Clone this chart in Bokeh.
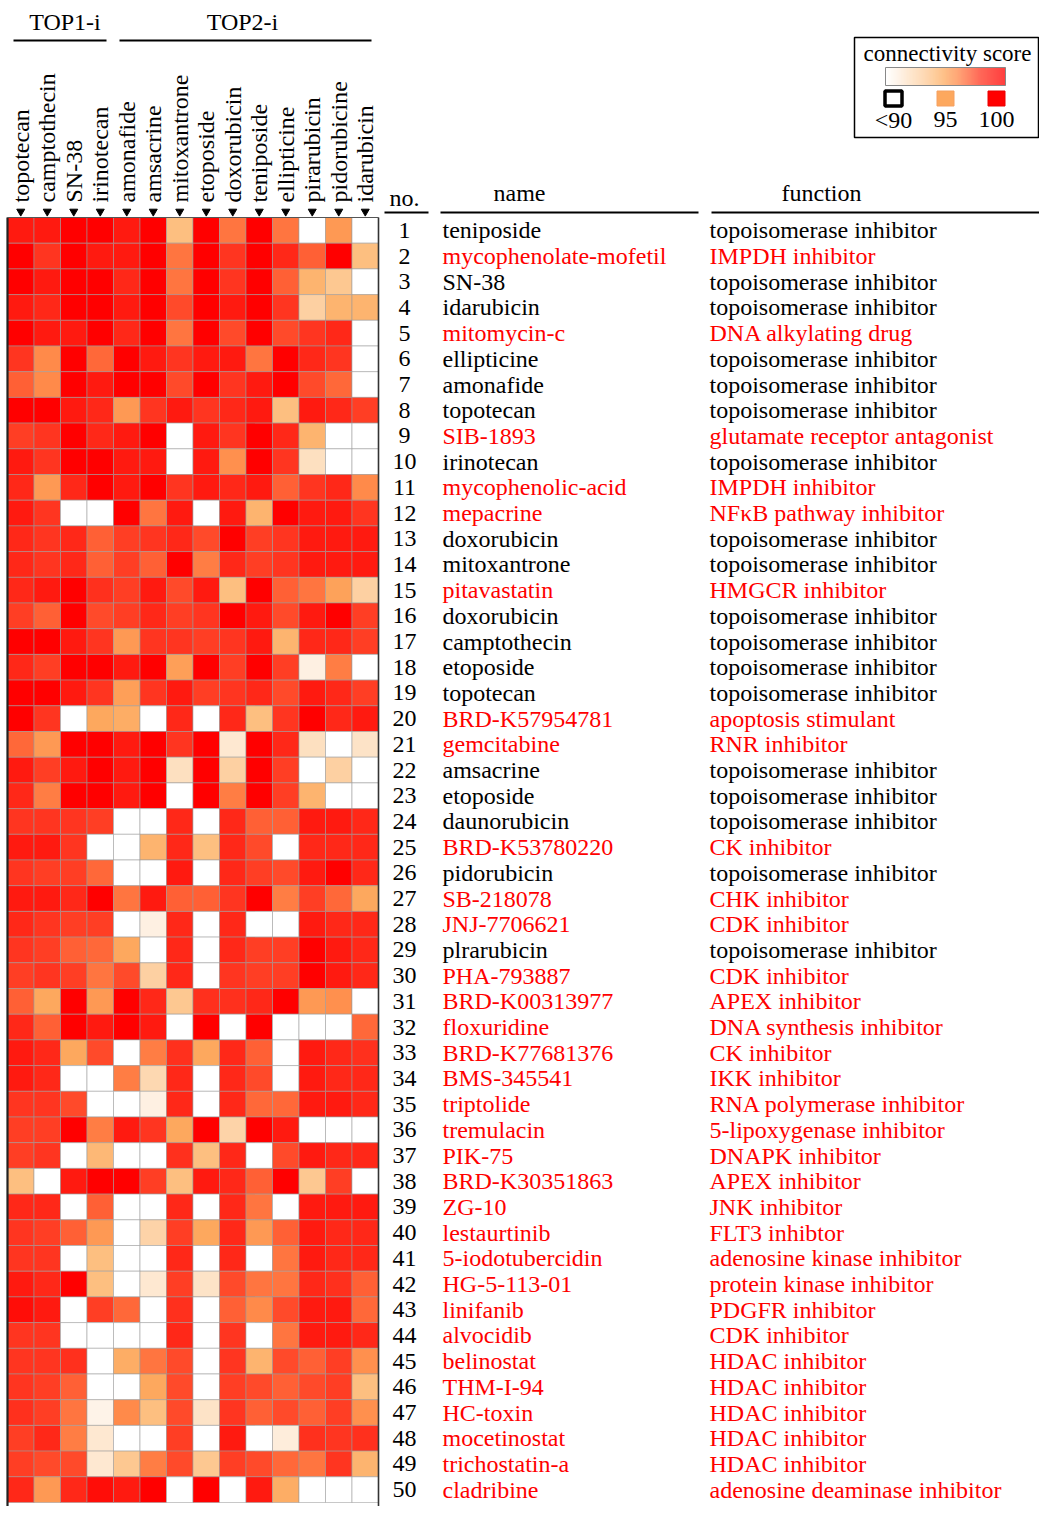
import numpy as np
from bokeh.plotting import figure
from bokeh.models import ColumnDataSource, LinearColorMapper, Range1d
from bokeh.transform import transform
from bokeh.core.properties import value
from bokeh.embed import file_html
from bokeh.resources import INLINE

# ---------------- data ----------------
groups = ["TOP1-i", "TOP2-i"]
group_sizes = [4, 10]
columns = ["topotecan", "camptothecin", "SN-38", "irinotecan", "amonafide", "amsacrine",
           "mitoxantrone", "etoposide", "doxorubicin", "teniposide", "ellipticine",
           "pirarubicin", "pidorubicine", "idarubicin"]

numbers = list(range(1, 51))
names = ["teniposide", "mycophenolate-mofetil", "SN-38", "idarubicin", "mitomycin-c",
         "ellipticine", "amonafide", "topotecan", "SIB-1893", "irinotecan",
         "mycophenolic-acid", "mepacrine", "doxorubicin", "mitoxantrone", "pitavastatin",
         "doxorubicin", "camptothecin", "etoposide", "topotecan", "BRD-K57954781",
         "gemcitabine", "amsacrine", "etoposide", "daunorubicin", "BRD-K53780220",
         "pidorubicin", "SB-218078", "JNJ-7706621", "plrarubicin", "PHA-793887",
         "BRD-K00313977", "floxuridine", "BRD-K77681376", "BMS-345541", "triptolide",
         "tremulacin", "PIK-75", "BRD-K30351863", "ZG-10", "lestaurtinib",
         "5-iodotubercidin", "HG-5-113-01", "linifanib", "alvocidib", "belinostat",
         "THM-I-94", "HC-toxin", "mocetinostat", "trichostatin-a", "cladribine"]
TI = "topoisomerase inhibitor"
functions = [TI, "IMPDH inhibitor", TI, TI, "DNA alkylating drug",
             TI, TI, TI, "glutamate receptor antagonist", TI,
             "IMPDH inhibitor", "NF\u03baB pathway inhibitor", TI, TI, "HMGCR inhibitor",
             TI, TI, TI, TI, "apoptosis stimulant",
             "RNR inhibitor", TI, TI, TI, "CK inhibitor",
             TI, "CHK inhibitor", "CDK inhibitor", TI, "CDK inhibitor",
             "APEX inhibitor", "DNA synthesis inhibitor", "CK inhibitor", "IKK inhibitor",
             "RNA polymerase inhibitor",
             "5-lipoxygenase inhibitor", "DNAPK inhibitor", "APEX inhibitor", "JNK inhibitor",
             "FLT3 inhibtor",
             "adenosine kinase inhibitor", "protein kinase inhibitor", "PDGFR inhibitor",
             "CDK inhibitor", "HDAC inhibitor",
             "HDAC inhibitor", "HDAC inhibitor", "HDAC inhibitor", "HDAC inhibitor",
             "adenosine deaminase inhibitor"]

scores = [
    [99, 99, 100, 100, 99, 100, 94, 100, 96.5, 100, 96.5, 90, 95.5, 90],
    [100, 98, 100, 99, 99, 100, 96.5, 100, 98, 100, 98.5, 97, 100, 94],
    [100, 99, 100, 100, 98.5, 100, 96.5, 100, 98, 100, 97, 94.5, 93.5, 90],
    [99, 98.5, 100, 100, 99, 100, 97.5, 100, 99, 100, 98, 93, 94.5, 94.5],
    [100, 99, 99, 100, 98.5, 100, 96.5, 100, 97.5, 100, 97.5, 98, 98.5, 90],
    [98, 96, 100, 96.8, 100, 99, 98, 99, 99, 96.5, 100, 98.5, 98, 90],
    [97, 96, 100, 99, 100, 100, 97.5, 100, 98, 99, 100, 97.5, 96.8, 90],
    [100, 100, 99, 98.5, 95.5, 98, 99, 98, 98.5, 99, 94, 99, 98.5, 97.8],
    [97.8, 98, 100, 98.5, 99, 100, 90, 99, 98, 100, 98.5, 94.5, 90, 90],
    [99, 98, 100, 100, 99, 99, 90, 99, 95.8, 100, 98, 92, 90, 90],
    [98.5, 95.5, 98.5, 100, 99, 100, 98, 99, 98.5, 99, 97, 98, 98.5, 96],
    [99, 98, 90, 90, 100, 96.5, 99, 90, 99, 94.5, 100, 99, 99, 98],
    [98.5, 98, 98.5, 97, 97.8, 98, 98.5, 97.5, 100, 97.8, 98, 99, 99, 99],
    [98.5, 98, 98.5, 97, 97.8, 97, 100, 96.3, 98.5, 97.8, 98, 99, 99, 99],
    [98.5, 99, 100, 98.2, 97.8, 99, 97.5, 99, 94, 100, 97, 96.5, 95.2, 93],
    [97.8, 97, 100, 97.5, 97.8, 98.5, 97.8, 98, 100, 99, 97.5, 99, 100, 97.8],
    [100, 100, 99, 98, 95.5, 98, 98, 97.8, 98, 99, 94.5, 98.5, 98.5, 97.8],
    [98.5, 97.8, 100, 100, 99, 100, 95.3, 100, 97.8, 100, 97.8, 91, 96.3, 90],
    [100, 100, 99, 98, 95.3, 98, 99, 97.8, 98, 98.5, 97.5, 99, 98.5, 97.8],
    [100, 98, 90, 95, 94.8, 90, 98.5, 90, 98.5, 94, 98, 100, 98.5, 99],
    [96.8, 95.5, 100, 100, 99, 100, 98, 100, 91.5, 100, 98.5, 92, 90, 91.8],
    [99, 97.8, 99, 100, 99, 100, 92, 100, 93, 100, 97.8, 90, 93, 90],
    [98.5, 96.3, 100, 100, 99, 100, 90, 100, 96.3, 100, 97.8, 94.5, 90, 90],
    [98, 98, 98, 97.8, 90, 90, 98.5, 90, 98.5, 97, 97, 99, 99, 98.5],
    [99, 99, 98, 90, 90, 94.5, 98.5, 94, 98.5, 97.5, 90, 98.5, 98.5, 98.5],
    [98, 97.8, 97.8, 96.8, 90, 90, 99, 90, 98.5, 97.8, 97.5, 99, 100, 98.5],
    [99, 99, 98.5, 100, 96.5, 99, 97, 97, 98, 100, 96.3, 97.8, 96.8, 95],
    [98.5, 98, 97.8, 97.8, 90, 91, 98.5, 90, 98.5, 90, 90, 99, 98.5, 98.5],
    [98, 97.8, 97, 96.8, 95, 90, 98.5, 90, 98.5, 97.8, 97.8, 100, 99, 98.5],
    [97.8, 98, 97.8, 96.5, 97.5, 93, 98.5, 90, 98, 97.8, 97.8, 100, 99, 98.5],
    [97, 95, 100, 95.5, 100, 98.5, 93.5, 98.2, 98.2, 98.5, 100, 95.5, 95.8, 90],
    [98.5, 97, 100, 99, 100, 99, 90, 100, 90, 100, 90, 90, 90, 96.8],
    [99, 98.5, 95, 97.5, 90, 96.3, 98.2, 95, 98.5, 97, 90, 99, 98.5, 98.2],
    [99, 98.5, 90, 90, 96.3, 92.5, 98.5, 90, 98.5, 97.5, 90, 99, 98.5, 98.5],
    [98, 98, 97.5, 90, 90, 91, 98.5, 90, 98.5, 96.8, 96.8, 99, 99, 98.5],
    [97.8, 97.8, 100, 96.3, 99, 98, 95, 100, 92.8, 100, 99, 90, 90, 90],
    [97.8, 98, 90, 94.3, 90, 90, 98.2, 94, 98.5, 90, 97.5, 99, 98.5, 98.5],
    [94, 90, 99, 100, 100, 97.8, 94, 99, 98.5, 97, 100, 93.5, 97.8, 90],
    [98.5, 98.5, 90, 97, 90, 90, 98.5, 90, 98.5, 96.5, 90, 99, 99, 99],
    [98, 97.8, 97, 95.5, 90, 92.8, 97.8, 95, 98.5, 95.5, 97, 99, 98.5, 98.5],
    [98, 98, 90, 94, 90, 90, 98.5, 90, 98.5, 90, 96.5, 99, 98.5, 98.5],
    [99, 98.5, 100, 94, 90, 91.5, 97.8, 91.8, 97.5, 96.5, 96.5, 98.5, 98.2, 97],
    [99.5, 99, 90, 97.8, 96.8, 90, 98.2, 90, 97, 96, 97.5, 99, 99, 96.8],
    [98, 98, 90, 90, 90, 90, 98.5, 90, 98, 90, 96.5, 99, 99, 98.5],
    [98, 98, 98.2, 90, 94.8, 96.5, 97.5, 90, 98, 94.5, 97.5, 97, 97.8, 95.8],
    [98, 97.8, 97, 90, 90, 95, 97.5, 90, 97.8, 97.5, 97, 97.5, 97.8, 94],
    [98.2, 97.8, 96.5, 90.8, 96, 94, 97.5, 91.8, 98, 97, 97.5, 97, 97.8, 95.8],
    [97.8, 98.5, 96.3, 91.5, 90, 90, 97.8, 90, 99, 90, 91.2, 98.2, 98, 98.2],
    [97.8, 97.5, 97.5, 91.5, 93.5, 96.3, 97.5, 93.5, 97.8, 97.5, 96.8, 96.5, 98, 94.5],
    [98.5, 95.5, 98.5, 99.5, 99, 100, 90, 100, 90, 99, 94.8, 90, 90, 90],
]

legend_ticks = [90, 95, 100]
legend_tick_labels = ["<90", "95", "100"]

# ---------------- colour scale ----------------
anchor_v = [90, 91, 92, 93, 94, 95, 96, 97, 98, 99, 100]
anchor_c = ["#FFFFFF", "#FEF0E2", "#FDE0C0", "#FDD0A2", "#FDBF80", "#FDA85E",
            "#FF8A4A", "#FF6035", "#FF3520", "#FF1A10", "#FF0000"]


def _rgb(h):
    return [int(h[i:i + 2], 16) for i in (1, 3, 5)]


_cols = np.array([_rgb(c) for c in anchor_c], dtype=float)
_grid = np.linspace(90, 100, 201)
palette = []
for g in _grid:
    r, gg, b = (np.interp(g, anchor_v, _cols[:, k]) for k in range(3))
    palette.append("#%02X%02X%02X" % (int(round(r)), int(round(gg)), int(round(b))))
mapper = LinearColorMapper(palette=palette, low=90, high=100, low_color="#FFFFFF")

# ---------------- layout constants (screen px) ----------------
W, H = 1039, 1506
FONT = value("Liberation Serif")
FS = "24px"
X0, CW = 7.0, 26.5
Y0, RH = 217.0, 25.7
NUM_X, NAME_X, FUNC_X = 404, 442, 709

p = figure(width=W, height=H, output_backend="svg", toolbar_location=None,
           x_range=Range1d(0, W), y_range=Range1d(H, 0),
           min_border=0, outline_line_color=None)
p.axis.visible = False
p.grid.visible = False
p.background_fill_color = "white"
p.border_fill_color = "white"

ncol = len(columns)
nrow = len(scores)
col_x = [X0 + CW * (j + 0.5) for j in range(ncol)]
row_y = [Y0 + RH * (i + 0.5) for i in range(nrow)]

# heatmap cells
cx, cy, cv = [], [], []
for i in range(nrow):
    for j in range(ncol):
        cx.append(col_x[j])
        cy.append(row_y[i])
        cv.append(scores[i][j])
src = ColumnDataSource(dict(x=cx, y=cy, v=cv))
p.rect(x="x", y="y", width=CW, height=RH, source=src,
       fill_color=transform("v", mapper), line_color="#9A9A9A", line_alpha=0.55, line_width=1)

# heatmap frame
bottom = H
p.segment(x0=[X0, X0 + CW * ncol, X0], y0=[Y0, Y0, Y0],
          x1=[X0, X0 + CW * ncol, X0 + CW * ncol], y1=[bottom, bottom, Y0],
          line_color=["#222222", "#333333", "#555555"], line_width=[2.2, 1.6, 1])

# column markers and labels
p.scatter(x=col_x, y=[Y0 - 6] * ncol, marker="inverted_triangle", size=8, color="black")
p.text(x=col_x, y=[Y0 - 15] * ncol, text=columns, angle=np.pi / 2, text_align="left",
       text_baseline="middle", text_font=FONT, text_font_size=FS, text_color="black")

# group labels with rules
starts = np.cumsum([0] + group_sizes[:-1])
g_x0 = [X0 + CW * s + 6 for s in starts]
g_x1 = [X0 + CW * (s + n) - 7 for s, n in zip(starts, group_sizes)]
p.segment(x0=g_x0, y0=[40] * 2, x1=g_x1, y1=[40] * 2, line_color="black", line_width=2)
g_shift = [5, -3]
p.text(x=[(a + b) / 2 + d for a, b, d in zip(g_x0, g_x1, g_shift)], y=[21] * 2, text=groups,
       text_align="center", text_baseline="middle", text_font=FONT, text_font_size=FS)

# table headers
p.text(x=[NUM_X, 519, 821], y=[197, 192, 192], text=["no.", "name", "function"],
       text_align="center", text_baseline="middle", text_font=FONT, text_font_size=FS)
p.segment(x0=[384, 440, 711], y0=[212] * 3, x1=[428, 698, W], y1=[212] * 3,
          line_color="black", line_width=2)

# table rows
tcolor = ["black" if f == TI else "#FF0000" for f in functions]
tsrc = ColumnDataSource(dict(y=row_y, num=[str(n) for n in numbers], name=names,
                             func=functions, c=tcolor))
p.text(x=NUM_X, y="y", text="num", source=tsrc, text_align="center", text_baseline="middle",
       text_font=FONT, text_font_size=FS, text_color="black")
p.text(x=NAME_X, y="y", text="name", source=tsrc, text_align="left", text_baseline="middle",
       text_font=FONT, text_font_size=FS, text_color="c")
p.text(x=FUNC_X, y="y", text="func", source=tsrc, text_align="left", text_baseline="middle",
       text_font=FONT, text_font_size=FS, text_color="c")

# legend
LX = -15
p.rect(x=[961 + LX], y=[87], width=184, height=100, fill_color="white",
       line_color="black", line_width=1.5)
p.text(x=[962 + LX], y=[53], text=["connectivity score"], text_align="center",
       text_baseline="middle", text_font=FONT, text_font_size="23px")
nseg = 120
edges = np.linspace(900 + LX, 1020 + LX, nseg + 1)
gsrc = ColumnDataSource(dict(l=edges[:-1], r=edges[1:],
                             v=np.linspace(legend_ticks[0], legend_ticks[-1], nseg)))
p.quad(left="l", right="r", top=67, bottom=85, source=gsrc,
       fill_color=transform("v", mapper), line_color=None)
p.rect(x=[960 + LX], y=[76], width=120, height=18, fill_color=None,
       line_color="#888888", line_width=1)
sq_x = [908 + LX, 960 + LX, 1011 + LX]
ssrc = ColumnDataSource(dict(x=sq_x, v=legend_ticks, lc=["black", "#F5A060", "#E80000"],
                             lw=[3.5, 1, 1]))
p.rect(x="x", y=98, width=17, height=15, source=ssrc, fill_color=transform("v", mapper),
       line_color="lc", line_width="lw")
p.text(x=sq_x, y=[119] * 3, text=legend_tick_labels, text_align="center",
       text_baseline="middle", text_font=FONT, text_font_size=FS)

open("out.html", "w").write(file_html(p, INLINE))
